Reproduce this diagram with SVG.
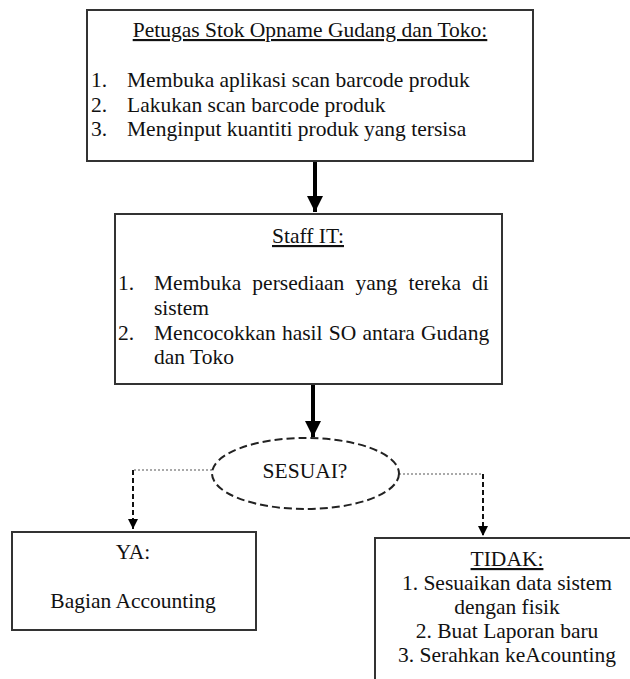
<svg xmlns="http://www.w3.org/2000/svg" width="630" height="679" viewBox="0 0 630 679">
<style>
.box{fill:#fff;stroke:#333;stroke-width:2}
.t{font-family:"Liberation Serif","Times New Roman",serif;font-size:21.5px;fill:#111}
.c{text-anchor:middle}
.u{text-decoration:underline}
.main{stroke:#000;stroke-width:4;fill:none}
.dot{stroke:#555;stroke-width:1.2;stroke-dasharray:2 2;fill:none}
.dash{stroke:#111;stroke-width:2;stroke-dasharray:5 3;fill:none}
.ell{fill:#fff;stroke:#222;stroke-width:2;stroke-dasharray:8 4}
</style>
<defs>
<marker id="big" markerWidth="4" markerHeight="4" refX="4" refY="2" orient="auto" markerUnits="strokeWidth"><path d="M0,0 L4,2 L0,4 Z" fill="#000"/></marker>
<marker id="sm" markerWidth="5" markerHeight="5" refX="5" refY="2.5" orient="auto" markerUnits="strokeWidth"><path d="M0,0 L5,2.5 L0,5 Z" fill="#000"/></marker>
</defs>
<rect width="630" height="679" fill="#fff"/>
<g id="connectors">
<line class="main" x1="315" y1="161" x2="315" y2="212" marker-end="url(#big)"/>
<line class="main" x1="313" y1="384" x2="313" y2="437" marker-end="url(#big)"/>
<polyline class="dot" points="212,470 133,470"/>
<line class="dash" x1="133" y1="470" x2="133" y2="529" marker-end="url(#sm)"/>
<polyline class="dot" points="399,474 483,474"/>
<line class="dash" x1="483" y1="474" x2="483" y2="536" marker-end="url(#sm)"/>
</g>
<g id="node-petugas">
<rect class="box" x="87" y="10" width="446" height="151"/>
<text class="t c u" x="310" y="37">Petugas Stok Opname Gudang dan Toko:</text>
<text class="t" x="91" y="87">1.</text><text class="t" x="127" y="87">Membuka aplikasi scan barcode produk</text>
<text class="t" x="91" y="111.5">2.</text><text class="t" x="127" y="111.5">Lakukan scan barcode produk</text>
<text class="t" x="91" y="136">3.</text><text class="t" x="127" y="136">Menginput kuantiti produk yang tersisa</text>
</g>
<g id="node-staff">
<rect class="box" x="115" y="214" width="387" height="170"/>
<text class="t c u" x="308" y="243">Staff IT:</text>
<text class="t" x="118" y="290">1.</text><text class="t" x="154" y="290" word-spacing="5.8">Membuka persediaan yang tereka di</text>
<text class="t" x="154" y="315">sistem</text>
<text class="t" x="118" y="340">2.</text><text class="t" x="154" y="340" word-spacing="0.8">Mencocokkan hasil SO antara Gudang</text>
<text class="t" x="154" y="364">dan Toko</text>
</g>
<g id="node-sesuai">
<ellipse class="ell" cx="305.5" cy="473.5" rx="93.5" ry="35.5"/>
<text class="t c" x="305" y="478">SESUAI?</text>
</g>
<g id="node-ya">
<rect class="box" x="12" y="532" width="244" height="98"/>
<text class="t c" x="133" y="559">YA:</text>
<text class="t c" x="133" y="608">Bagian Accounting</text>
</g>
<g id="node-tidak">
<rect class="box" x="375" y="538" width="265" height="160"/>
<text class="t c u" x="507" y="566">TIDAK:</text>
<text class="t c" x="507" y="590">1. Sesuaikan data sistem</text>
<text class="t c" x="507" y="614">dengan fisik</text>
<text class="t c" x="507" y="638">2. Buat Laporan baru</text>
<text class="t c" x="507" y="662">3. Serahkan keAcounting</text>
</g>
</svg>
